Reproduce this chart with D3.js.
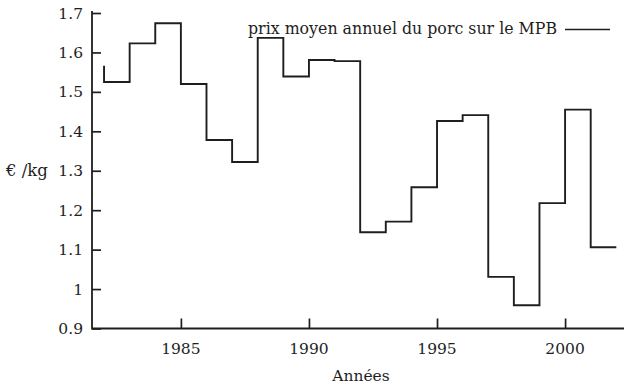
<!DOCTYPE html>
<html>
<head>
<meta charset="utf-8">
<script src="https://cdn.jsdelivr.net/npm/d3@7"></script>
<style>
  html, body { margin: 0; padding: 0; background: #fff; }
  svg { display: block; }
  text { font-family: "DejaVu Serif", "Liberation Serif", serif; fill: #1e1e1e; }
</style>
</head>
<body>
<svg id="chart" width="626" height="386"></svg>
<script>
// Annual average pork price on the MPB (€/kg), one value per year
const years  = [1982, 1983, 1984, 1985, 1986, 1987, 1988, 1989, 1990, 1991, 1992,
                1993, 1994, 1995, 1996, 1997, 1998, 1999, 2000, 2001, 2002];
const prices = [1.566, 1.525, 1.623, 1.674, 1.520, 1.378, 1.322, 1.637, 1.539, 1.581, 1.578,
                1.144, 1.171, 1.258, 1.426, 1.441, 1.031, 0.959, 1.218, 1.455, 1.106];

const xTicks = [1985, 1990, 1995, 2000];
const yTicks = [0.9, 1, 1.1, 1.2, 1.3, 1.4, 1.5, 1.6, 1.7];
const yTickLabels = ["0.9", "1", "1.1", "1.2", "1.3", "1.4", "1.5", "1.6", "1.7"];

const seriesLabel = "prix moyen annuel du porc sur le MPB";
const xTitle = "Années";
const yTitle = "€ /kg";

const ink = "#1e1e1e";
const svg = d3.select("#chart");

const plotLeft = 92, plotRight = 624, plotTop = 13, plotBottom = 328.5;

const x = d3.scaleLinear().domain([1981.53, 2002.3]).range([plotLeft, plotRight]);
const y = d3.scaleLinear().domain([0.9, 1.7]).range([plotBottom, plotTop]);

// left and bottom borders
svg.append("path")
  .attr("d", `M${plotLeft},${plotTop - 2}V${plotBottom}H${plotRight}`)
  .attr("fill", "none")
  .attr("stroke", ink)
  .attr("stroke-width", 1.8);

// y axis: inward ticks
const yAxis = d3.axisRight(y)
  .tickValues(yTicks)
  .tickSize(9)
  .tickFormat(() => "");
const gy = svg.append("g").attr("transform", `translate(${plotLeft},0)`).call(yAxis);
gy.select(".domain").remove();
gy.selectAll(".tick line").attr("stroke", ink).attr("stroke-width", 1.7);

svg.append("g").selectAll("text")
  .data(yTicks)
  .join("text")
  .attr("x", plotLeft - 9)
  .attr("y", d => y(d) + 5.5)
  .attr("text-anchor", "end")
  .attr("font-size", 15.5)
  .text((d, i) => yTickLabels[i]);

// x axis: inward ticks
const xAxis = d3.axisTop(x)
  .tickValues(xTicks)
  .tickSize(10)
  .tickFormat(() => "");
const gx = svg.append("g").attr("transform", `translate(0,${plotBottom})`).call(xAxis);
gx.select(".domain").remove();
gx.selectAll(".tick line").attr("stroke", ink).attr("stroke-width", 1.7);

svg.append("g").selectAll("text")
  .data(xTicks)
  .join("text")
  .attr("x", d => x(d))
  .attr("y", 354)
  .attr("text-anchor", "middle")
  .attr("font-size", 15.5)
  .text(d => d3.format("d")(d));

// axis titles
svg.append("text")
  .attr("x", 361).attr("y", 381)
  .attr("text-anchor", "middle")
  .attr("font-size", 15.5)
  .text(xTitle);

svg.append("text")
  .attr("x", 6).attr("y", 176)
  .attr("font-size", 16.5)
  .text(yTitle);

// step line: value changes at the start of each year interval
const line = d3.line()
  .x((d, i) => x(years[i]))
  .y(d => y(d))
  .curve(d3.curveStepBefore);

svg.append("path")
  .datum(prices)
  .attr("d", line)
  .attr("fill", "none")
  .attr("stroke", ink)
  .attr("stroke-width", 1.9)
  .attr("stroke-linejoin", "miter");

// legend
svg.append("text")
  .attr("x", 557).attr("y", 34)
  .attr("text-anchor", "end")
  .attr("font-size", 15.8)
  .text(seriesLabel);

svg.append("line")
  .attr("x1", 565).attr("x2", 610)
  .attr("y1", 29.5).attr("y2", 29.5)
  .attr("stroke", ink)
  .attr("stroke-width", 1.7);
</script>
</body>
</html>
